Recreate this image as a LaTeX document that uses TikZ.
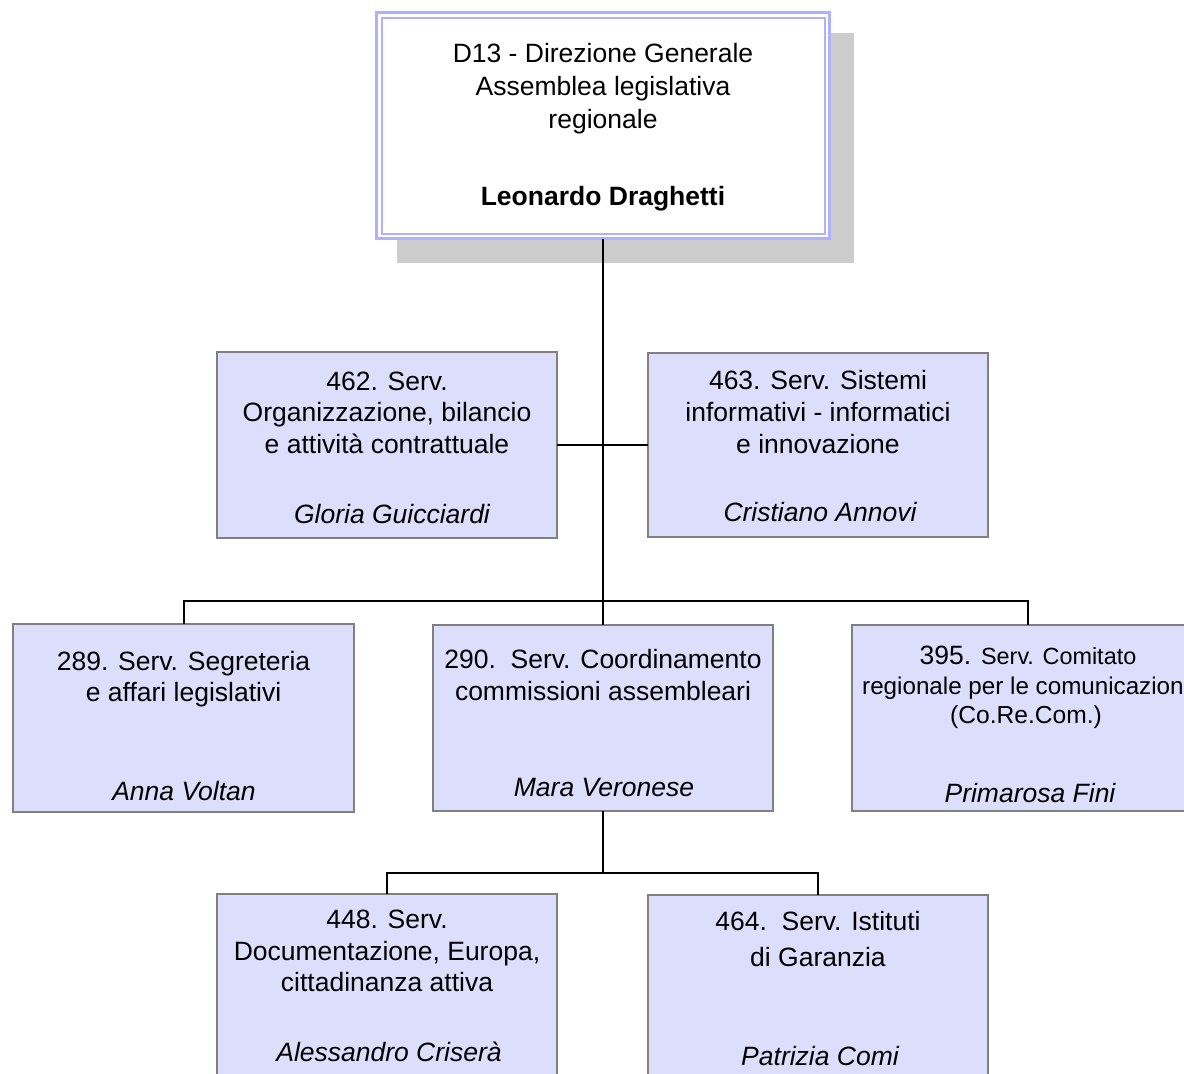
\documentclass[tikz,border=0pt]{standalone}
\usepackage{fontspec}
\setmainfont{Liberation Sans}
\definecolor{boxfill}{RGB}{221,221,252}
\definecolor{boxgray}{RGB}{128,128,128}
\definecolor{lav}{RGB}{176,176,255}
\definecolor{shadowgray}{RGB}{204,204,204}
\begin{document}
\begin{tikzpicture}[x=1pt,y=-1pt,
  box/.style={draw=boxgray, fill=boxfill, line width=1.5pt, anchor=north west, inner sep=0pt, outer sep=0pt},
  conn/.style={draw=black, line width=2pt},
  txt/.style={anchor=base, inner sep=0pt, font=\fontsize{26.5}{30}\selectfont},
  itx/.style={anchor=base, inner sep=0pt, font=\fontsize{26.5}{30}\selectfont\itshape},
  btx/.style={anchor=base, inner sep=0pt, font=\fontsize{26.5}{30}\selectfont\bfseries},
  stx/.style={anchor=base, inner sep=0pt, font=\fontsize{24.6}{28}\selectfont}]
\useasboundingbox (0,0) rectangle (1184,1074);
\fill[white] (0,0) rectangle (1184,1074);
\clip (0,0) rectangle (1184,1074);

% top box with shadow
\fill[shadowgray] (397,33) rectangle (854,263);
\node[draw=lav, fill=white, line width=3pt, anchor=north west, inner sep=0pt, outer sep=0pt,
      minimum width=453pt, minimum height=226pt] (top) at (376.5,12.5) {};
\draw[lav, line width=2pt] ([shift={(5,5)}]top.north west) rectangle ([shift={(-5,-5)}]top.south east);

% boxes
\node[box, minimum width=340pt, minimum height=186pt] (b462) at (217,352) {};
\node[box, minimum width=340pt, minimum height=184pt] (b463) at (648,353) {};
\node[box, minimum width=341pt, minimum height=188pt] (b289) at (13,624) {};
\node[box, minimum width=340pt, minimum height=186pt] (b290) at (433,625) {};
\node[box, minimum width=352pt, minimum height=186pt] (b395) at (852,625) {};
\node[box, minimum width=340pt, minimum height=200pt] (b448) at (217,894) {};
\node[box, minimum width=340pt, minimum height=200pt] (b464) at (648,895) {};

% connectors
\coordinate (j1) at (603,601);
\coordinate (j2) at (603,873);
\draw[conn] (top.south) -- (j1);
\draw[conn] (b462.east) -- (b463.west);
\draw[conn] (b289.north) -- (b289.north |- j1) -- (b395.north |- j1) -- (b395.north);
\draw[conn] (j1) -- (b290.north);
\draw[conn] (b290.south) -- (j2);
\draw[conn] (b448.north) -- (b448.north |- j2) -- (b464.north |- j2) -- (b464.north);

% texts: top
\node[txt] (t1) at (603,62) {D13 - Direzione Generale};
\node[txt] (t2) at (603,95) {Assemblea legislativa};
\node[txt] (t3) at (603,128) {regionale};
\node[btx] (t4) at (603,205) {Leonardo Draghetti};

% 462
\node[txt] (a1) at (387,390) {462. Serv.};
\node[txt] (a2) at (387,421.7) {Organizzazione, bilancio};
\node[txt] (a3) at (387,453.3) {e attività contrattuale};
\node[itx] (a4) at (392,523) {Gloria Guicciardi};

% 463
\node[txt] (c1) at (818,389) {463. Serv. Sistemi};
\node[txt] (c2) at (818,421) {informativi - informatici};
\node[txt] (c3) at (818,453.3) {e innovazione};
\node[itx] (c4) at (820,521.7) {Cristiano Annovi};

% 289
\node[txt] (d1) at (183.5,670) {289. Serv. Segreteria};
\node[txt] (d2) at (183.5,701) {e affari legislativi};
\node[itx] (d3) at (184,800) {Anna Voltan};

% 290
\node[txt] (e1) at (603,668.3) {290.\ \ Serv. Coordinamento};
\node[txt] (e2) at (603,700) {commissioni assembleari};
\node[itx] (e3) at (604,796.7) {Mara Veronese};

% 395
\node[txt] (f1) at (1028,664.3) {395. {\fontsize{23.4}{28}\selectfont Serv. Comitato}};
\node[anchor=base west, inner sep=0pt, font=\fontsize{24.2}{28}\selectfont] (f2) at (862,694.3) {regionale per le comunicazion};
\node[stx] (f3) at (1026,723) {(Co.Re.Com.)};
\node[itx] (f4) at (1030,802.7) {Primarosa Fini};

% 448
\node[txt] (g1) at (387,928.3) {448. Serv.};
\node[txt] (g2) at (387,960) {Documentazione, Europa,};
\node[txt] (g3) at (387,991.7) {cittadinanza attiva};
\node[itx] (g4) at (389,1061.7) {Alessandro Criserà};

% 464
\node[txt] (h1) at (818,930) {464.\ \ Serv. Istituti};
\node[txt] (h2) at (818,966) {di Garanzia};
\node[itx] (h3) at (820,1065) {Patrizia Comi};
\end{tikzpicture}
\end{document}
